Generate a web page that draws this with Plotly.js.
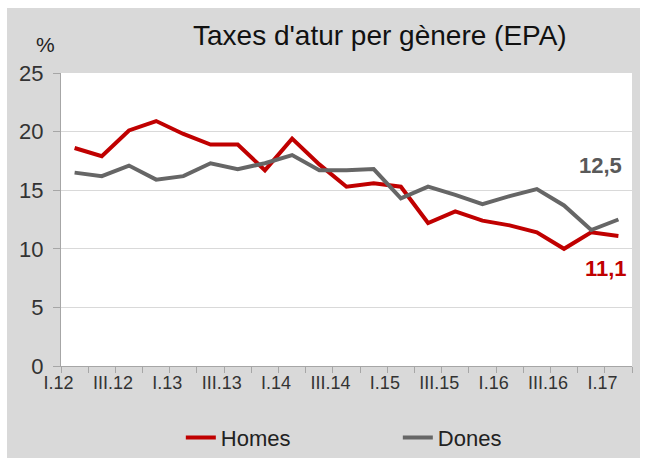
<!DOCTYPE html>
<html><head><meta charset="utf-8">
<script src="https://cdn.plot.ly/plotly-3.0.1.min.js"></script>
<style>html,body{margin:0;padding:0;background:#fff;}#chart{position:absolute;left:7px;top:8px;width:633px;height:450px;}</style>
</head><body><div id="chart"></div>
<script>
const categories = ['I.12','II.12','III.12','IV.12','I.13','II.13','III.13','IV.13','I.14','II.14','III.14','IV.14','I.15','II.15','III.15','IV.15','I.16','II.16','III.16','IV.16','I.17'];
const homes = [18.6,17.9,20.1,20.9,19.8,18.9,18.9,16.7,19.4,17.2,15.3,15.6,15.3,12.2,13.2,12.4,12.0,11.4,10.0,11.4,11.1];
const dones = [16.5,16.2,17.1,15.9,16.2,17.3,16.8,17.3,18.0,16.7,16.7,16.8,14.3,15.3,14.6,13.8,14.5,15.1,13.7,11.6,12.5];
const tickText = categories.map(c => (c.startsWith('I.') || c.startsWith('III.')) ? c : '');
const fmt = v => v.toFixed(1).replace('.', ',');
const n = categories.length - 1;
const lblFont = 'Liberation Sans, Arial, sans-serif';

const traces = [
  {x: categories, y: homes, name: 'Homes', type: 'scatter', mode: 'lines',
   line: {color: '#C00000', width: 4}},
  {x: categories, y: dones, name: 'Dones', type: 'scatter', mode: 'lines',
   line: {color: '#666666', width: 4}}
];

const layout = {
  width: 633, height: 450,
  paper_bgcolor: '#D9D9D9', plot_bgcolor: '#FFFFFF',
  margin: {l: 54, r: 8, t: 65, b: 92},
  font: {family: lblFont, color: '#333333'},
  title: {text: "Taxes d'atur per gènere (EPA)", xref: 'container', yref: 'container',
          x: 0.589, xanchor: 'center', y: 0.94, yanchor: 'middle',
          font: {family: lblFont, size: 28, color: '#111111'}},
  showlegend: true,
  legend: {orientation: 'h', xref: 'container', yref: 'container', x: 0.2746, xanchor: 'left',
           y: 0.045, yanchor: 'middle', font: {size: 22, color: '#222222', family: lblFont},
           entrywidth: 172, entrywidthmode: 'pixels', bgcolor: 'rgba(0,0,0,0)'},
  xaxis: {type: 'category', categoryarray: categories, range: [-0.5, n + 0.5],
          tickvals: categories, ticktext: tickText, tickson: 'boundaries', tickangle: 0,
          ticks: 'outside', ticklen: 6, tickcolor: '#A6A6A6', tickwidth: 1,
          showline: true, linecolor: '#A6A6A6', linewidth: 1, showgrid: false,
          ticklabelposition: 'outside left', ticklabelshift: -16,
          tickfont: {size: 18, color: '#333333', family: lblFont}, fixedrange: true},
  yaxis: {range: [0, 25], dtick: 5, tick0: 0, showgrid: true, gridcolor: '#D9D9D9', gridwidth: 1,
          zeroline: false, showline: true, linecolor: '#A6A6A6', linewidth: 1,
          ticks: 'outside', ticklen: 7, tickcolor: '#A6A6A6', ticklabelstandoff: 5,
          tickfont: {size: 22, color: '#333333', family: lblFont}, fixedrange: true},
  annotations: [
    {text: '%', xref: 'paper', yref: 'paper', x: -0.007, y: 1.096, xanchor: 'right', yanchor: 'middle',
     showarrow: false, font: {size: 21, color: '#222222', family: lblFont}},
    {text: '<b>' + fmt(dones[n]) + '</b>', x: categories[n], y: dones[n], xref: 'x', yref: 'y',
     showarrow: false, xanchor: 'center', yanchor: 'middle', xshift: -18, yshift: 54,
     font: {size: 22, color: '#595959', family: lblFont}},
    {text: '<b>' + fmt(homes[n]) + '</b>', x: categories[n], y: homes[n], xref: 'x', yref: 'y',
     showarrow: false, xanchor: 'center', yanchor: 'middle', xshift: -12, yshift: -33,
     font: {size: 22, color: '#C00000', family: lblFont}}
  ]
};
Plotly.newPlot('chart', traces, layout, {displayModeBar: false, staticPlot: true});
</script></body></html>
